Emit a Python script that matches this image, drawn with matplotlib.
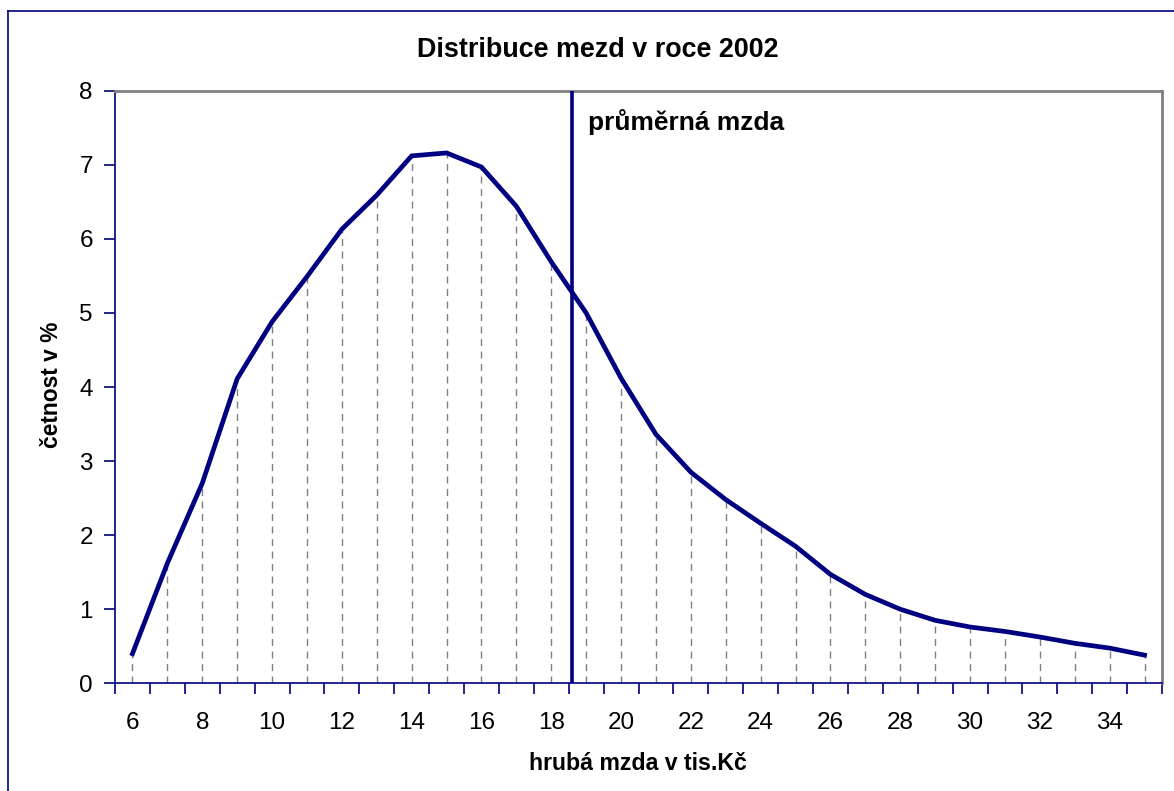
import matplotlib
matplotlib.use("Agg")
import matplotlib.pyplot as plt
from matplotlib.lines import Line2D

plt.rcParams['font.family'] = ['Liberation Sans', 'DejaVu Sans']

wage = list(range(6, 36))
freq = [0.40, 1.62, 2.70, 4.11, 4.88, 5.49, 6.13, 6.59, 7.12, 7.16,
        6.97, 6.44, 5.69, 5.00, 4.12, 3.36, 2.85, 2.48, 2.16, 1.85,
        1.47, 1.20, 1.00, 0.85, 0.76, 0.70, 0.625, 0.54, 0.475, 0.38]
mean_wage = 18.6
x_labels = list(range(6, 35, 2))
y_ticks = list(range(0, 9))

navy = '#000080'
grey = '#808080'

fig = plt.figure(figsize=(11.74, 7.91), dpi=100)
ax = fig.add_axes([115/1174, 1-683.3/791, (1162-115)/1174, (683.3-90.7)/791])

# drop lines
ax.vlines(wage, 0, freq, colors=grey, linestyles=(0, (5, 4)), linewidth=1.0, zorder=1)
ax.plot(wage, freq, color=navy, linewidth=3.4, solid_joinstyle='miter', zorder=3)
ax.axvline(mean_wage, color=navy, linewidth=2.6, zorder=4)
ax.text(mean_wage + 0.45, 7.58, 'průměrná mzda', fontsize=19, fontweight='bold',
        va='center', ha='left')

ax.set_xlim(5.5, 35.5)
ax.set_ylim(0, 8)
ax.set_xticks([v + 0.5 for v in range(5, 36)])
ax.set_xticklabels([])
ax.set_xticks(x_labels, minor=True)
ax.set_xticklabels([str(v) for v in x_labels], minor=True)
ax.tick_params(axis='x', which='major', direction='out', length=8, width=1.2, color=navy)
ax.tick_params(axis='x', which='minor', length=0, pad=21, labelsize=17.5)
ax.set_yticks(y_ticks)
ax.tick_params(axis='y', direction='out', length=8, width=1.2, color=navy, labelsize=17.5, pad=8)

for s in ['left', 'bottom']:
    ax.spines[s].set_color(navy)
    ax.spines[s].set_linewidth(1.2)
for s in ['top', 'right']:
    ax.spines[s].set_color(grey)
    ax.spines[s].set_linewidth(2)

fig.text(598/1174, 1-50/791, 'Distribuce mezd v roce 2002', fontsize=19.4, fontweight='bold',
         ha='center', va='center')
fig.text(638/1174, 1-764/791, 'hrubá mzda v tis.Kč', fontsize=16.7, fontweight='bold',
         ha='center', va='center')
fig.text(52/1174, 1-385/791, 'četnost v %', fontsize=16.4, fontweight='bold',
         ha='center', va='center', rotation=90)

fx = 8.3/1174
fy = 1-11/791
fig.add_artist(Line2D([fx, fx], [0, fy], color=navy, linewidth=1.2, transform=fig.transFigure))
fig.add_artist(Line2D([fx, 1], [fy, fy], color=navy, linewidth=1.2, transform=fig.transFigure))

fig.savefig('out.png', dpi=100)
